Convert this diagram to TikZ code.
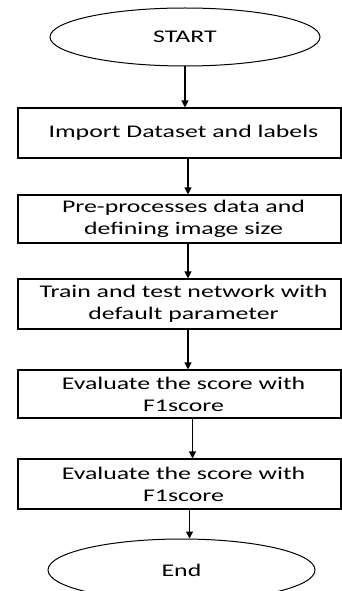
\documentclass[tikz,border=0pt]{standalone}
\usepackage{fontspec}
\setmainfont[FakeStretch=1.45]{Carlito}
\usetikzlibrary{arrows.meta,shapes.geometric}
\begin{document}
\begin{tikzpicture}[x=1pt,y=1pt,
  txt/.style={font=\fontsize{17.8}{22}\selectfont, text=black},
  box/.style={txt, draw, line width=1.1pt, minimum width=323pt, align=center, inner sep=0pt},
  term/.style={txt, draw, ellipse, line width=1pt, inner sep=0pt},
  arr/.style={-{Triangle[width=7pt,length=7pt]}, line width=1.1pt}]
\useasboundingbox (0,0) rectangle (342,-591);
\clip (0,0) rectangle (342,-591);
\node[term, minimum width=270pt, minimum height=58pt] (start) at (185,-37) {START};
\node[box, minimum height=50pt] (b1) at (179.5,-133) {\hspace*{8pt}Import Dataset and labels};
\node[box, minimum height=48pt] (b2) at (179.5,-219) {\hspace*{8pt}Pre-processes data and\\\hspace*{8pt}defining image size};
\node[box, minimum height=50pt] (b3) at (179.5,-304) {\hspace*{8pt}Train and test network with\\\hspace*{8pt}default parameter};
\node[box, minimum height=48pt] (b4) at (179.5,-394) {\hspace*{8pt}Evaluate the score with\\\hspace*{8pt}F1score};
\node[box, minimum height=50pt] (b5) at (179.5,-484) {\hspace*{8pt}Evaluate the score with\\\hspace*{8pt}F1score};
\node[term, minimum width=267pt, minimum height=62pt] (end) at (181.5,-570) {End};
\draw[arr] (start.south) -- (start.south |- b1.north);
\draw[arr] ([xshift=8.5pt]b1.south) -- ([xshift=8.5pt]b2.north);
\draw[arr] ([xshift=8.5pt]b2.south) -- ([xshift=8.5pt]b3.north);
\draw[arr] ([xshift=8.5pt]b3.south) -- ([xshift=8.5pt]b4.north);
\draw[arr] ([xshift=13pt]b4.south) -- ([xshift=13pt]b5.north);
\draw[arr] ([xshift=10pt]b5.south) -- ([xshift=10pt]b5.south |- end.north);
\end{tikzpicture}
\end{document}
